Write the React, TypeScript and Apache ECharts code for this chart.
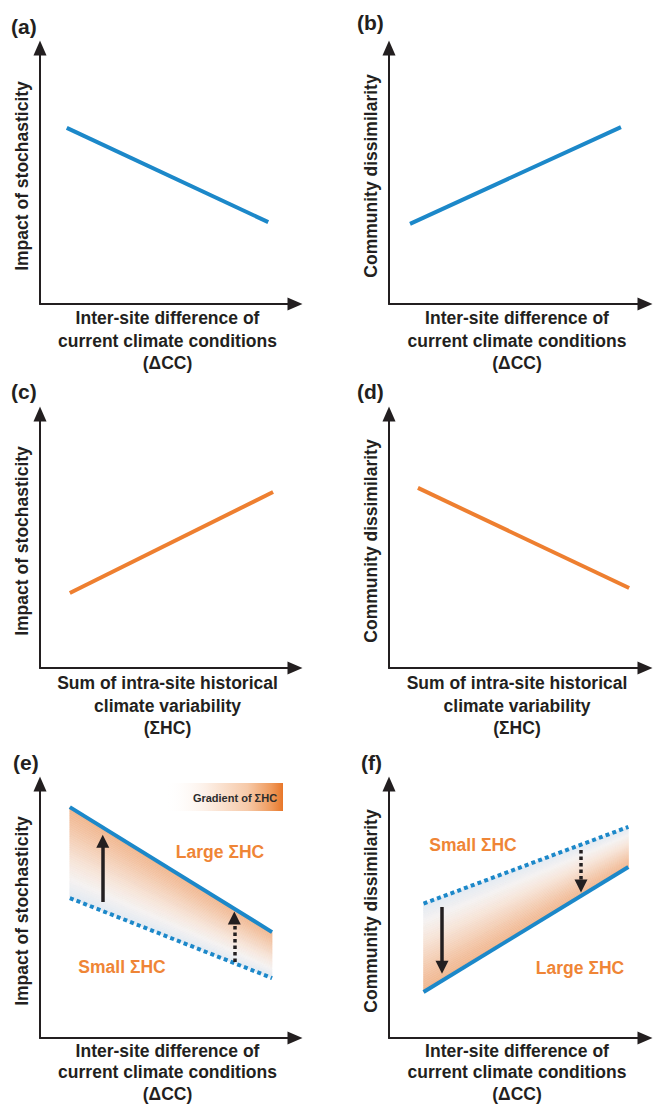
import React, { useEffect, useRef } from "react";
import * as echarts from "echarts";

// ---------- data (axes 0..100) ----------
const aX = [10.5, 89.5];
const aY = [68.8, 32.0];
const bX = [8.2, 90.6];
const bY = [31.3, 69.1];
const cX = [11.7, 91.4];
const cY = [29.5, 69.3];
const dX = [11.3, 93.8];
const dY = [70.9, 31.5];
const eX = [11.7, 91.0];
const eLarge = [90.9, 41.7];
const eSmall = [55.1, 23.6];
const fX = [13.5, 93.5];
const fLarge = [18.1, 67.3];
const fSmall = [52.9, 83.1];
// arrows: [x, from, to]
const eArrowSolid = [24.6, 53.5, 77.5];
const eArrowDotted = [76.2, 29.9, 47.2];
const fArrowSolid = [20.7, 51.6, 27.9];
const fArrowDotted = [75.0, 74.0, 59.8];

const panelLabels = ["(a)", "(b)", "(c)", "(d)", "(e)", "(f)"];
const xTitleCC = "Inter-site difference of\ncurrent climate conditions\n(ΔCC)";
const xTitleHC = "Sum of intra-site historical\nclimate variability\n(ΣHC)";
const yTitleImpact = "Impact of stochasticity";
const yTitleDissim = "Community dissimilarity";
const xTitles = [xTitleCC, xTitleCC, xTitleHC, xTitleHC, xTitleCC, xTitleCC];
const yTitles = [yTitleImpact, yTitleDissim, yTitleImpact, yTitleDissim, yTitleImpact, yTitleDissim];
const largeLabel = "Large ΣHC";
const smallLabel = "Small ΣHC";
const gradientLabel = "Gradient of ΣHC";

// ---------- style ----------
const BLUE = "#1C88C9";
const ORANGE = "#EE7F30";
const ORANGE_TEXT = "#EF8536";
const INK = "#231F20";
const FONT = "'Liberation Sans', Arial, Helvetica, sans-serif";
const BAND_COLORS = ["#F0B58D", "#F3C4A4", "#F5D5C0", "#F6E6DB", "#F5F2F1", "#E1E9F2"];
const BAND_STRIPS = 40;

const cols = [
  { left: 40, width: 255 },
  { left: 389, width: 256 },
];
const rows = [
  { top: 48, height: 256 },
  { top: 414, height: 254 },
  { top: 784, height: 254 },
];

const zip = (xs: number[], ys: number[]) => xs.map((x, i) => [x, ys[i]]);
const mix = (p: number[], q: number[], t: number) => [p[0] + (q[0] - p[0]) * t, p[1] + (q[1] - p[1]) * t];

function bandSeries(idx: number, xs: number[], solid: number[], dotted: number[]) {
  return {
    type: "custom",
    coordinateSystem: "cartesian2d",
    xAxisIndex: idx,
    yAxisIndex: idx,
    silent: true,
    z: 1,
    data: xs.map((x, i) => [x, dotted[i], solid[i]]),
    encode: { x: 0, y: [1, 2] },
    renderItem: (params: any, api: any) => {
      if (params.dataIndex !== 0) return null;
      const s0 = api.coord([xs[0], solid[0]]);
      const s1 = api.coord([xs[1], solid[1]]);
      const d1 = api.coord([xs[1], dotted[1]]);
      const d0 = api.coord([xs[0], dotted[0]]);
      const children: any[] = [];
      for (let k = 0; k < BAND_STRIPS; k++) {
        const t0 = k / BAND_STRIPS;
        const t1 = (k + 1) / BAND_STRIPS;
        const col = echarts.color.lerp((t0 + t1) / 2, BAND_COLORS) as string;
        children.push({
          type: "polygon",
          shape: { points: [mix(s0, d0, t0), mix(s1, d1, t0), mix(s1, d1, t1), mix(s0, d0, t1)] },
          style: { fill: col, stroke: col, lineWidth: 0.6 },
        });
      }
      return { type: "group", children };
    },
  };
}

function arrowSeries(idx: number, solidA: number[], dottedA: number[]) {
  return {
    type: "lines",
    coordinateSystem: "cartesian2d",
    xAxisIndex: idx,
    yAxisIndex: idx,
    silent: true,
    z: 6,
    symbol: ["none", "triangle"],
    symbolSize: 13,
    lineStyle: { color: INK, width: 3.5, opacity: 1, curveness: 0 },
    data: [
      {
        coords: [
          [solidA[0], solidA[1]],
          [solidA[0], solidA[2]],
        ],
        lineStyle: { type: "solid", color: INK, width: 3.5, opacity: 1 },
      },
      {
        coords: [
          [dottedA[0], dottedA[1]],
          [dottedA[0], dottedA[2]],
        ],
        lineStyle: { type: [3.5, 3], color: INK, width: 3.5, opacity: 1 },
      },
    ],
  };
}

function lineSeries(idx: number, data: number[][], color: string, dashed = false, z = 3) {
  return {
    type: "line",
    xAxisIndex: idx,
    yAxisIndex: idx,
    data,
    symbol: "none",
    silent: true,
    z,
    lineStyle: { color, width: 4, type: dashed ? [4, 3.2] : "solid", cap: "butt" },
  };
}

function buildOption() {
  const grids: any[] = [];
  const xAxes: any[] = [];
  const yAxes: any[] = [];
  for (let r = 0; r < 3; r++) {
    for (let c = 0; c < 2; c++) {
      const i = r * 2 + c;
      grids.push({
        left: cols[c].left,
        width: cols[c].width,
        top: rows[r].top,
        height: rows[r].height,
        containLabel: false,
        outerBoundsMode: "none",
      });
      const axisLine = {
        show: true,
        onZero: false,
        symbol: ["none", "triangle"],
        symbolSize: [13, 15],
        lineStyle: { color: INK, width: 2 },
      };
      const nameStyle = {
        fontSize: 17.5,
        fontWeight: "bold",
        color: INK,
        fontFamily: FONT,
        lineHeight: r === 2 ? 21.5 : 22.5,
      };
      xAxes.push({
        type: "value",
        gridIndex: i,
        min: 0,
        max: 100,
        axisLine,
        axisTick: { show: false },
        axisLabel: { show: false },
        splitLine: { show: false },
        name: xTitles[i],
        nameLocation: "middle",
        nameGap: r === 1 ? 4 : r === 2 ? 2 : 3,
        nameTextStyle: nameStyle,
      });
      yAxes.push({
        type: "value",
        gridIndex: i,
        min: 0,
        max: 100,
        axisLine,
        axisTick: { show: false },
        axisLabel: { show: false },
        splitLine: { show: false },
        name: yTitles[i],
        nameLocation: "middle",
        nameGap: 8,
        nameTextStyle: { ...nameStyle, lineHeight: 20 },
      });
    }
  }

  const series: any[] = [
    lineSeries(0, zip(aX, aY), BLUE),
    lineSeries(1, zip(bX, bY), BLUE),
    lineSeries(2, zip(cX, cY), ORANGE),
    lineSeries(3, zip(dX, dY), ORANGE),
    bandSeries(4, eX, eLarge, eSmall),
    lineSeries(4, zip(eX, eSmall), BLUE, true, 3),
    lineSeries(4, zip(eX, eLarge), BLUE, false, 4),
    arrowSeries(4, eArrowSolid, eArrowDotted),
    bandSeries(5, fX, fLarge, fSmall),
    lineSeries(5, zip(fX, fSmall), BLUE, true, 3),
    lineSeries(5, zip(fX, fLarge), BLUE, false, 4),
    arrowSeries(5, fArrowSolid, fArrowDotted),
  ];

  const labelPos = [
    [11, 16],
    [357, 12],
    [11, 381],
    [357, 381],
    [13, 752],
    [361, 752],
  ];
  const graphic: any[] = panelLabels.map((t, i) => ({
    type: "text",
    x: labelPos[i][0],
    y: labelPos[i][1],
    silent: true,
    style: {
      text: t,
      fontSize: 21,
      fontWeight: "bold",
      fontFamily: FONT,
      fill: INK,
      textVerticalAlign: "top",
    },
  }));

  const annot = (text: string, x: number, y: number) => ({
    type: "text",
    x,
    y,
    silent: true,
    z: 10,
    style: {
      text,
      fontSize: 17.5,
      fontWeight: "bold",
      fontFamily: FONT,
      fill: ORANGE_TEXT,
      textAlign: "center",
      textVerticalAlign: "middle",
    },
  });
  graphic.push(annot(largeLabel, 220, 852));
  graphic.push(annot(smallLabel, 122, 967));
  graphic.push(annot(smallLabel, 473, 845));
  graphic.push(annot(largeLabel, 580, 968));

  graphic.push({
    type: "rect",
    silent: true,
    shape: { x: 165, y: 783, width: 118, height: 28 },
    style: {
      fill: new echarts.graphic.LinearGradient(0, 0, 1, 0, [
        { offset: 0, color: "rgba(255,255,255,0)" },
        { offset: 0.35, color: "#FCEFE6" },
        { offset: 0.7, color: "#F6C9A8" },
        { offset: 0.9, color: "#EF9A5C" },
        { offset: 1, color: "#E8772A" },
      ]),
    },
  });
  graphic.push({
    type: "text",
    x: 235,
    y: 798,
    silent: true,
    z: 10,
    style: {
      text: gradientLabel,
      fontSize: 11,
      fontWeight: "bold",
      fontFamily: FONT,
      fill: "#2B2B2B",
      textAlign: "center",
      textVerticalAlign: "middle",
    },
  });

  return {
    animation: false,
    backgroundColor: "#ffffff",
    grid: grids,
    xAxis: xAxes,
    yAxis: yAxes,
    series,
    graphic,
  };
}

export default function App() {
  const ref = useRef<HTMLDivElement>(null);
  useEffect(() => {
    if (!ref.current) return;
    const chart = echarts.init(ref.current, undefined, { renderer: "svg" });
    chart.setOption(buildOption() as any);
    return () => chart.dispose();
  }, []);
  return (
    <div
      ref={ref}
      style={{ position: "absolute", left: 0, top: 0, width: 653, height: 1107, background: "#fff" }}
    />
  );
}
